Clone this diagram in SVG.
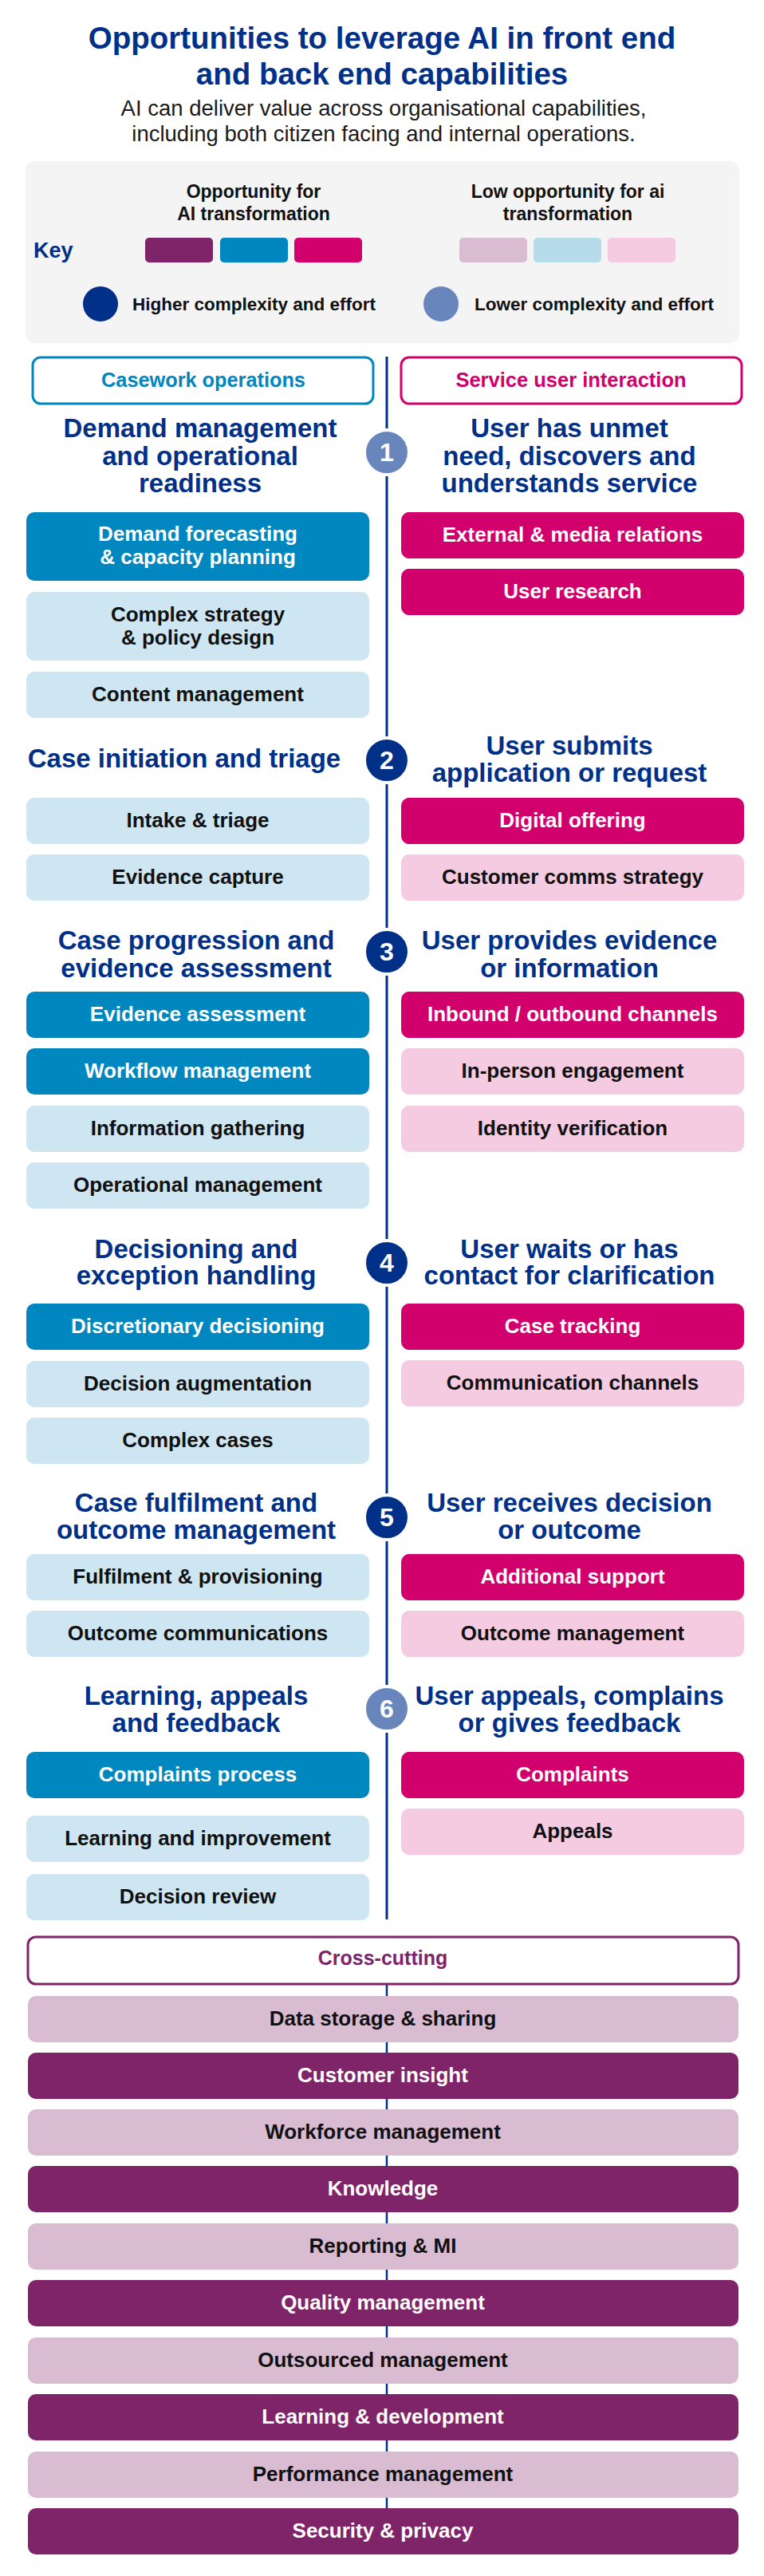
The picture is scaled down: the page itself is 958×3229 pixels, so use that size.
<svg xmlns="http://www.w3.org/2000/svg" width="958" height="3229" viewBox="0 0 958 3229">
<style>
text{font-family:"Liberation Sans",Arial,Helvetica,sans-serif}
.title{font-size:38.5px;font-weight:700;fill:#003087;text-anchor:middle}
.sub{font-size:27.5px;fill:#1a1a1a;text-anchor:middle}
.h{font-size:33px;font-weight:700;fill:#003087;text-anchor:middle}
.bt{font-size:26px;font-weight:700;text-anchor:middle}
.kl{font-size:23px;font-weight:700;fill:#111;text-anchor:middle}
.kt{font-size:22.5px;font-weight:700;fill:#111}
.w{fill:#fff}
.d{fill:#111}
.blue{fill:#0087bf}
.bluel{fill:#cde6f1}
.mag{fill:#d1006c}
.magl{fill:#f5cbe1}
.pur{fill:#7f2468}
.purl{fill:#d9bbd2}
.num{font-size:32px;font-weight:700;fill:#fff;text-anchor:middle}
.cd{fill:#003087;stroke:#fff;stroke-width:4}
.cl{fill:#6886bc;stroke:#fff;stroke-width:4}
.conn{stroke:#003087;fill:none}
</style>

<g id="title">
<text class="title" x="479" y="61">Opportunities to leverage AI in front end</text>
<text class="title" x="479" y="106">and back end capabilities</text>
<text class="sub" x="481" y="145">AI can deliver value across organisational capabilities,</text>
<text class="sub" x="481" y="177">including both citizen facing and internal operations.</text>
</g>

<g id="key">
<rect x="32" y="202" width="895" height="228" rx="12" fill="#f4f4f4"/>
<text x="42" y="323" style="font-size:27px;font-weight:700;fill:#003087">Key</text>
<text class="kl" x="318" y="248">Opportunity for</text>
<text class="kl" x="318" y="276">AI transformation</text>
<text class="kl" x="712" y="248">Low opportunity for ai</text>
<text class="kl" x="712" y="276">transformation</text>
<rect x="182" y="298" width="85" height="31" rx="5" fill="#7f2468"/>
<rect x="276" y="298" width="85" height="31" rx="5" fill="#0087bf"/>
<rect x="369" y="298" width="85" height="31" rx="5" fill="#d1006c"/>
<rect x="576" y="298" width="85" height="31" rx="5" fill="#d9bbd2"/>
<rect x="669" y="298" width="85" height="31" rx="5" fill="#b6dcec"/>
<rect x="762" y="298" width="85" height="31" rx="5" fill="#f5cbe1"/>
<circle cx="126" cy="381" r="22" fill="#003087"/>
<text class="kt" x="166" y="389">Higher complexity and effort</text>
<circle cx="553" cy="381" r="22" fill="#6886bc"/>
<text class="kt" x="595" y="389">Lower complexity and effort</text>
</g>

<g id="connectors">
<line class="conn" x1="485" y1="447" x2="485" y2="2406" stroke-width="3"/>
<line class="conn" x1="485" y1="2487" x2="485" y2="3144" stroke-width="2.5"/>
</g>

<g id="hdr-casework">
<rect x="41" y="448" width="427" height="58" rx="10" fill="#fff" stroke="#0087bf" stroke-width="3"/>
<text x="255" y="485" style="font-size:25.3px;font-weight:700;fill:#0087bf;text-anchor:middle">Casework operations</text>
</g>
<g id="hdr-service">
<rect x="503" y="448" width="427" height="58" rx="10" fill="#fff" stroke="#d1006c" stroke-width="3"/>
<text x="716" y="485" style="font-size:25.5px;font-weight:700;fill:#d1006c;text-anchor:middle">Service user interaction</text>
</g>

<!-- Stage headings and numbers -->
<g id="stage1">
<text class="h" x="251" y="548">Demand management</text>
<text class="h" x="251" y="583">and operational</text>
<text class="h" x="251" y="617">readiness</text>
<circle class="cl" cx="485" cy="567" r="28"/>
<text class="num" x="485" y="578">1</text>
<text class="h" x="714" y="548">User has unmet</text>
<text class="h" x="714" y="583">need, discovers and</text>
<text class="h" x="714" y="617">understands service</text>
</g>
<g id="stage2">
<text class="h" x="231" y="962">Case initiation and triage</text>
<circle class="cd" cx="485" cy="953" r="28"/>
<text class="num" x="485" y="964">2</text>
<text class="h" x="714" y="946">User submits</text>
<text class="h" x="714" y="980">application or request</text>
</g>
<g id="stage3">
<text class="h" x="246" y="1190">Case progression and</text>
<text class="h" x="246" y="1225">evidence assessment</text>
<circle class="cd" cx="485" cy="1193" r="28"/>
<text class="num" x="485" y="1204">3</text>
<text class="h" x="714" y="1190">User provides evidence</text>
<text class="h" x="714" y="1225">or information</text>
</g>
<g id="stage4">
<text class="h" x="246" y="1577">Decisioning and</text>
<text class="h" x="246" y="1610">exception handling</text>
<circle class="cd" cx="485" cy="1583" r="28"/>
<text class="num" x="485" y="1594">4</text>
<text class="h" x="714" y="1577">User waits or has</text>
<text class="h" x="714" y="1610">contact for clarification</text>
</g>
<g id="stage5">
<text class="h" x="246" y="1895">Case fulfilment and</text>
<text class="h" x="246" y="1929">outcome management</text>
<circle class="cd" cx="485" cy="1902" r="28"/>
<text class="num" x="485" y="1913">5</text>
<text class="h" x="714" y="1895">User receives decision</text>
<text class="h" x="714" y="1929">or outcome</text>
</g>
<g id="stage6">
<text class="h" x="246" y="2137">Learning, appeals</text>
<text class="h" x="246" y="2171">and feedback</text>
<circle class="cl" cx="485" cy="2142" r="28"/>
<text class="num" x="485" y="2153">6</text>
<text class="h" x="714" y="2137">User appeals, complains</text>
<text class="h" x="714" y="2171">or gives feedback</text>
</g>

<!-- Left column nodes -->
<g id="n-demand-forecasting"><rect class="blue" x="33" y="642" width="430" height="86" rx="10"/><text class="bt w" x="248" y="678">Demand forecasting</text><text class="bt w" x="248" y="707">&amp; capacity planning</text></g>
<g id="n-complex-strategy"><rect class="bluel" x="33" y="742" width="430" height="86" rx="10"/><text class="bt d" x="248" y="779">Complex strategy</text><text class="bt d" x="248" y="808">&amp; policy design</text></g>
<g id="n-content-management"><rect class="bluel" x="33" y="842" width="430" height="58" rx="10"/><text class="bt d" x="248" y="879">Content management</text></g>
<g id="n-intake-triage"><rect class="bluel" x="33" y="1000" width="430" height="58" rx="10"/><text class="bt d" x="248" y="1037">Intake &amp; triage</text></g>
<g id="n-evidence-capture"><rect class="bluel" x="33" y="1071" width="430" height="58" rx="10"/><text class="bt d" x="248" y="1108">Evidence capture</text></g>
<g id="n-evidence-assessment"><rect class="blue" x="33" y="1243" width="430" height="58" rx="10"/><text class="bt w" x="248" y="1280">Evidence assessment</text></g>
<g id="n-workflow-management"><rect class="blue" x="33" y="1314" width="430" height="58" rx="10"/><text class="bt w" x="248" y="1351">Workflow management</text></g>
<g id="n-information-gathering"><rect class="bluel" x="33" y="1386" width="430" height="58" rx="10"/><text class="bt d" x="248" y="1423">Information gathering</text></g>
<g id="n-operational-management"><rect class="bluel" x="33" y="1457" width="430" height="58" rx="10"/><text class="bt d" x="248" y="1494">Operational management</text></g>
<g id="n-discretionary-decisioning"><rect class="blue" x="33" y="1634" width="430" height="58" rx="10"/><text class="bt w" x="248" y="1671">Discretionary decisioning</text></g>
<g id="n-decision-augmentation"><rect class="bluel" x="33" y="1706" width="430" height="58" rx="10"/><text class="bt d" x="248" y="1743">Decision augmentation</text></g>
<g id="n-complex-cases"><rect class="bluel" x="33" y="1777" width="430" height="58" rx="10"/><text class="bt d" x="248" y="1814">Complex cases</text></g>
<g id="n-fulfilment-provisioning"><rect class="bluel" x="33" y="1948" width="430" height="58" rx="10"/><text class="bt d" x="248" y="1985">Fulfilment &amp; provisioning</text></g>
<g id="n-outcome-communications"><rect class="bluel" x="33" y="2019" width="430" height="58" rx="10"/><text class="bt d" x="248" y="2056">Outcome communications</text></g>
<g id="n-complaints-process"><rect class="blue" x="33" y="2196" width="430" height="58" rx="10"/><text class="bt w" x="248" y="2233">Complaints process</text></g>
<g id="n-learning-improvement"><rect class="bluel" x="33" y="2276" width="430" height="58" rx="10"/><text class="bt d" x="248" y="2313">Learning and improvement</text></g>
<g id="n-decision-review"><rect class="bluel" x="33" y="2349" width="430" height="58" rx="10"/><text class="bt d" x="248" y="2386">Decision review</text></g>

<!-- Right column nodes -->
<g id="n-external-media"><rect class="mag" x="503" y="642" width="430" height="58" rx="10"/><text class="bt w" x="718" y="679">External &amp; media relations</text></g>
<g id="n-user-research"><rect class="mag" x="503" y="713" width="430" height="58" rx="10"/><text class="bt w" x="718" y="750">User research</text></g>
<g id="n-digital-offering"><rect class="mag" x="503" y="1000" width="430" height="58" rx="10"/><text class="bt w" x="718" y="1037">Digital offering</text></g>
<g id="n-customer-comms"><rect class="magl" x="503" y="1071" width="430" height="58" rx="10"/><text class="bt d" x="718" y="1108">Customer comms strategy</text></g>
<g id="n-inbound-outbound"><rect class="mag" x="503" y="1243" width="430" height="58" rx="10"/><text class="bt w" x="718" y="1280">Inbound / outbound channels</text></g>
<g id="n-in-person"><rect class="magl" x="503" y="1314" width="430" height="58" rx="10"/><text class="bt d" x="718" y="1351">In-person engagement</text></g>
<g id="n-identity-verification"><rect class="magl" x="503" y="1386" width="430" height="58" rx="10"/><text class="bt d" x="718" y="1423">Identity verification</text></g>
<g id="n-case-tracking"><rect class="mag" x="503" y="1634" width="430" height="58" rx="10"/><text class="bt w" x="718" y="1671">Case tracking</text></g>
<g id="n-communication-channels"><rect class="magl" x="503" y="1705" width="430" height="58" rx="10"/><text class="bt d" x="718" y="1742">Communication channels</text></g>
<g id="n-additional-support"><rect class="mag" x="503" y="1948" width="430" height="58" rx="10"/><text class="bt w" x="718" y="1985">Additional support</text></g>
<g id="n-outcome-management"><rect class="magl" x="503" y="2019" width="430" height="58" rx="10"/><text class="bt d" x="718" y="2056">Outcome management</text></g>
<g id="n-complaints"><rect class="mag" x="503" y="2196" width="430" height="58" rx="10"/><text class="bt w" x="718" y="2233">Complaints</text></g>
<g id="n-appeals"><rect class="magl" x="503" y="2267" width="430" height="58" rx="10"/><text class="bt d" x="718" y="2304">Appeals</text></g>

<!-- Cross-cutting -->
<g id="hdr-cross-cutting">
<rect x="35" y="2428" width="891" height="59" rx="10" fill="#fff" stroke="#7f2468" stroke-width="3"/>
<text x="480" y="2463" style="font-size:25px;font-weight:700;fill:#7f2468;text-anchor:middle">Cross-cutting</text>
</g>
<g id="n-data-storage"><rect class="purl" x="35" y="2502" width="891" height="58" rx="10"/><text class="bt d" x="480" y="2539">Data storage &amp; sharing</text></g>
<g id="n-customer-insight"><rect class="pur" x="35" y="2573" width="891" height="58" rx="10"/><text class="bt w" x="480" y="2610">Customer insight</text></g>
<g id="n-workforce-management"><rect class="purl" x="35" y="2644" width="891" height="58" rx="10"/><text class="bt d" x="480" y="2681">Workforce management</text></g>
<g id="n-knowledge"><rect class="pur" x="35" y="2715" width="891" height="58" rx="10"/><text class="bt w" x="480" y="2752">Knowledge</text></g>
<g id="n-reporting-mi"><rect class="purl" x="35" y="2787" width="891" height="58" rx="10"/><text class="bt d" x="480" y="2824">Reporting &amp; MI</text></g>
<g id="n-quality-management"><rect class="pur" x="35" y="2858" width="891" height="58" rx="10"/><text class="bt w" x="480" y="2895">Quality management</text></g>
<g id="n-outsourced-management"><rect class="purl" x="35" y="2930" width="891" height="58" rx="10"/><text class="bt d" x="480" y="2967">Outsourced management</text></g>
<g id="n-learning-development"><rect class="pur" x="35" y="3001" width="891" height="58" rx="10"/><text class="bt w" x="480" y="3038">Learning &amp; development</text></g>
<g id="n-performance-management"><rect class="purl" x="35" y="3073" width="891" height="58" rx="10"/><text class="bt d" x="480" y="3110">Performance management</text></g>
<g id="n-security-privacy"><rect class="pur" x="35" y="3144" width="891" height="58" rx="10"/><text class="bt w" x="480" y="3181">Security &amp; privacy</text></g>
</svg>
